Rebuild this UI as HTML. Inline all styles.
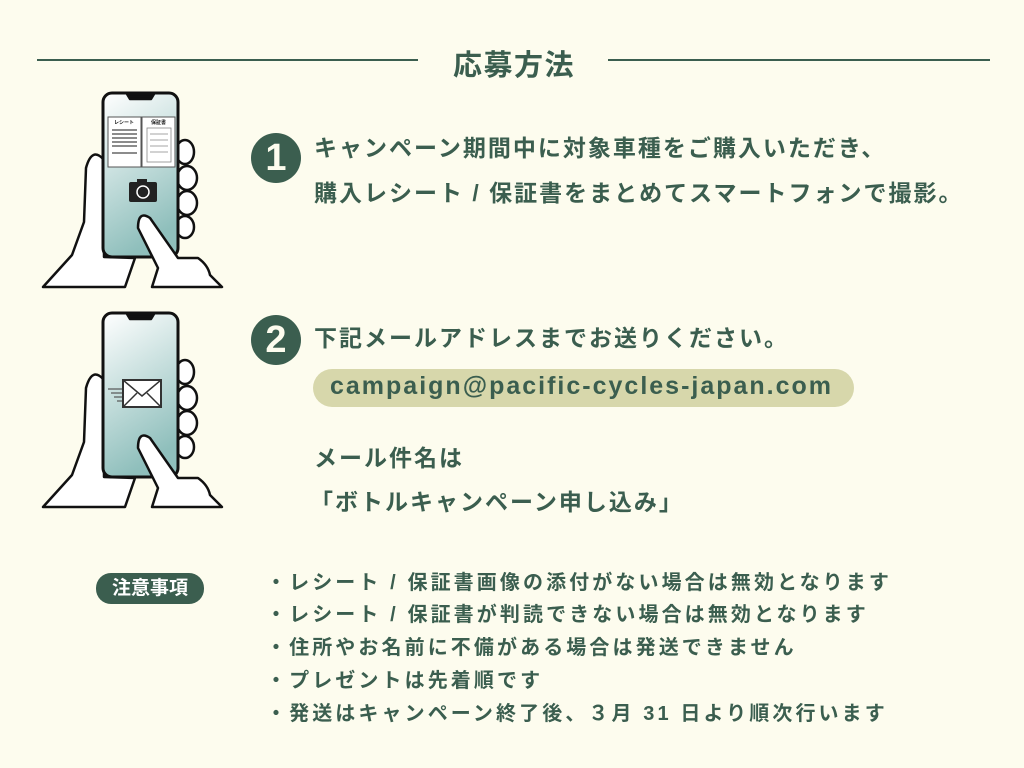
<!DOCTYPE html>
<html><head><meta charset="utf-8">
<style>
body{margin:0;width:1024px;height:768px;background:#fdfcee;overflow:hidden;position:relative;font-family:"Liberation Sans","Noto Sans CJK JP",sans-serif;color:#3b5e4f;font-weight:bold}
.a{position:absolute;white-space:nowrap}
.line{position:absolute;height:2px;background:#3b5e4f;top:59px}
.num{position:absolute;width:50px;height:50px;border-radius:50%;background:#3b5e4f;color:#fdfcee;font-size:38px;text-align:center;line-height:50px;font-family:"Liberation Sans",sans-serif}
.t{font-size:23px;letter-spacing:2px}
.n{font-size:20px;letter-spacing:3.1px}
</style></head><body>
<div class="line" style="left:37px;width:381px"></div>
<div class="line" style="left:608px;width:382px"></div>
<div class="a" style="left:453px;top:42px;font-size:29px;letter-spacing:1.5px">応募方法</div>

<svg class="a" style="left:0;top:0" width="260" height="540">
<defs>
<linearGradient id="g" x1="0" y1="0" x2="0.3" y2="1"><stop offset="0" stop-color="#fff"/><stop offset="1" stop-color="#8fbfbc"/></linearGradient>
<g id="ph" stroke="#111" stroke-width="2.5" stroke-linejoin="round">
<ellipse cx="155" cy="72" rx="9" ry="12" fill="#fff"/>
<ellipse cx="157" cy="98" rx="10" ry="12" fill="#fff"/>
<ellipse cx="157" cy="123" rx="10" ry="12" fill="#fff"/>
<ellipse cx="155" cy="147" rx="9" ry="11" fill="#fff"/>
<path d="M13,207 L42,175 L54,142 L56,88 Q62,66 74,80 L74,177 L105,178 L95,207 Z" fill="#fff"/>
<rect x="73" y="13" width="75" height="164" rx="9" fill="url(#g)" stroke-width="3"/>
<path d="M97,14 L100,19 L121,19 L124,14 Z" fill="#111"/>
<path d="M122,207 L128,188 L108,148 Q108,130 120,138 L148,178 L168,178 Q178,185 180,195 L192,207 Z" fill="#fff"/>
</g>
</defs>
<g transform="translate(30,80)"><use href="#ph"/>
<rect x="78" y="37" width="33" height="50" fill="#fff" stroke="#555" stroke-width="1"/>
<rect x="112" y="37" width="33" height="50" fill="#fff" stroke="#555" stroke-width="1"/>
<text x="84" y="44" font-size="5" fill="#222">レシート</text><text x="121" y="44" font-size="5" fill="#222">保証書</text>
<g stroke="#666" stroke-width="1.5"><line x1="82" y1="50" x2="107" y2="50"/><line x1="82" y1="54" x2="107" y2="54"/><line x1="82" y1="58" x2="107" y2="58"/><line x1="82" y1="62" x2="107" y2="62"/><line x1="82" y1="66" x2="107" y2="66"/><line x1="82" y1="73" x2="107" y2="73"/></g>
<g stroke="#888" stroke-width="0.8"><rect x="117" y="48" width="24" height="34" fill="none"/><line x1="120" y1="54" x2="138" y2="54"/><line x1="120" y1="60" x2="138" y2="60"/><line x1="120" y1="66" x2="138" y2="66"/><line x1="120" y1="72" x2="138" y2="72"/></g>
<rect x="99" y="102" width="28" height="20" rx="2" fill="#222"/><rect x="107" y="99" width="10" height="4" fill="#222"/><circle cx="113" cy="112" r="6" fill="none" stroke="#fff" stroke-width="1.5"/>
</g>
<g transform="translate(30,300)"><use href="#ph"/>
<rect x="93" y="80" width="38" height="27" fill="#fff" stroke="#333" stroke-width="2"/>
<path d="M93,80 L112,96 L131,80 M93,107 L107,93 M131,107 L117,93" fill="none" stroke="#333" stroke-width="1.5"/>
<g stroke="#555" stroke-width="1.2"><line x1="78" y1="89" x2="92" y2="89"/><line x1="81" y1="93" x2="92" y2="93"/><line x1="84" y1="97" x2="92" y2="97"/><line x1="87" y1="101" x2="92" y2="101"/></g>
</g>
</svg>

<div class="num" style="left:251px;top:133px">1</div>
<div class="a t" style="left:314px;top:129px">キャンペーン期間中に対象車種をご購入いただき、</div>
<div class="a t" style="left:314px;top:174px">購入レシート / 保証書をまとめてスマートフォンで撮影。</div>

<div class="num" style="left:251px;top:315px">2</div>
<div class="a t" style="left:314px;top:319px">下記メールアドレスまでお送りください。</div>
<div class="a" style="left:313px;top:369px;width:541px;height:38px;border-radius:19px;background:#d7d7ab"></div>
<div class="a" style="left:330px;top:372px;font-size:25px;letter-spacing:2px">campaign@pacific-cycles-japan.com</div>
<div class="a t" style="left:314px;top:439px">メール件名は</div>
<div class="a t" style="left:310px;top:483px">「ボトルキャンペーン申し込み」</div>

<div class="a" style="left:96px;top:573px;width:108px;height:31px;border-radius:15px;background:#3b5e4f;color:#fff;font-size:19px;text-align:center;line-height:31px">注意事項</div>
<div class="a n" style="left:266px;top:566px">・レシート / 保証書画像の添付がない場合は無効となります</div>
<div class="a n" style="left:266px;top:598px">・レシート / 保証書が判読できない場合は無効となります</div>
<div class="a n" style="left:266px;top:631px">・住所やお名前に不備がある場合は発送できません</div>
<div class="a n" style="left:266px;top:664px">・プレゼントは先着順です</div>
<div class="a n" style="left:266px;top:697px">・発送はキャンペーン終了後、３月 31 日より順次行います</div>
</body></html>
